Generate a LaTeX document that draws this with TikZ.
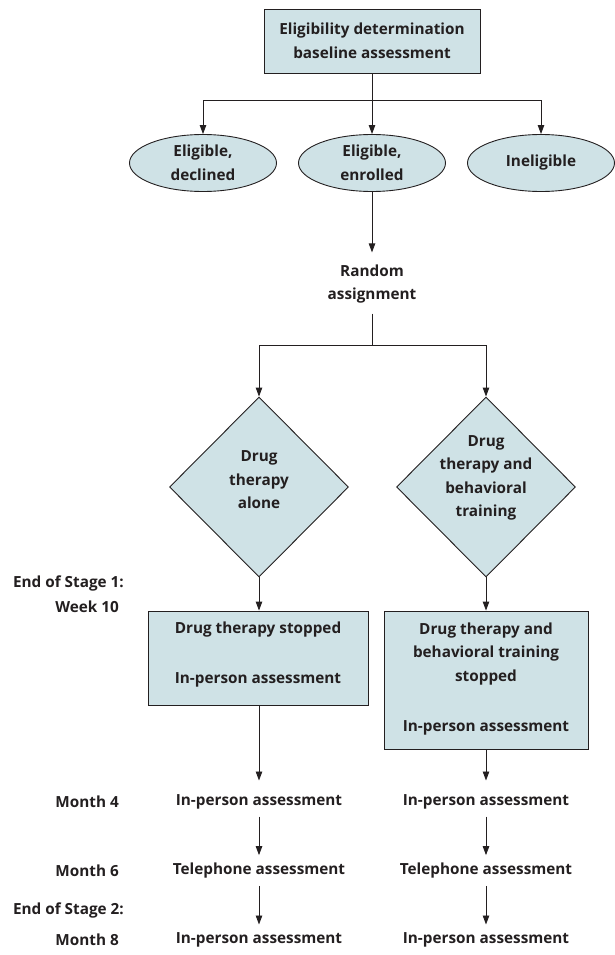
\documentclass[tikz,border=0pt]{standalone}
\usepackage{fontspec}
\setmainfont{Open Sans}
\usetikzlibrary{arrows.meta,shapes.geometric}
\definecolor{boxfill}{RGB}{207,226,230}
\definecolor{ink}{RGB}{35,31,32}
\begin{document}
\begin{tikzpicture}[x=1pt,y=-1pt,
  every node/.style={font=\bfseries\fontsize{15.3}{23.5}\selectfont, text=ink, align=center, inner sep=0pt},
  boxnode/.style={draw=ink, fill=boxfill, line width=0.9pt},
  ellnode/.style={draw=ink, fill=boxfill, ellipse, line width=0.9pt, minimum width=147pt, minimum height=57pt},
  diamnode/.style={draw=ink, fill=boxfill, diamond, line width=0.9pt, minimum width=179pt, minimum height=180pt},
  arr/.style={draw=ink, line width=0.9pt, -{Triangle[length=9pt,width=6.5pt]}},
  ln/.style={draw=ink, line width=0.9pt},
  lbl/.style={anchor=east, align=right}]
\useasboundingbox (0,0) rectangle (615,955);

% top box
\node[boxnode, minimum width=216pt, minimum height=64pt] (top) at (372,41) {Eligibility determination\\baseline assessment};
\node[ellnode] (e1) at (203,163) {Eligible,\\declined};
\node[ellnode] (e2) at (372,163) {Eligible,\\enrolled};
\node[ellnode] (e3) at (541,163) {Ineligible};
\coordinate (split1) at (372,100);
\draw[ln] (top.south) -- (split1);
\draw[arr] (split1) -| (e1.north);
\draw[arr] (split1) -- (e2.north);
\draw[arr] (split1) -| (e3.north);

\node (rand) at (372,284) {Random\\assignment};
\draw[arr, shorten >=12pt] (e2.south) -- (rand.north);
\coordinate (split2) at (372,345);
\draw[ln, shorten <=10pt] (rand.south) -- (split2);

\node[diamnode] (d1) at (259,487) {};
\node at (259,480) {Drug\\therapy\\alone};
\node[diamnode] (d2) at (486,487) {};
\node at (486,478) {Drug\\therapy and\\behavioral\\training};
\draw[arr] (split2) -| (d1.north);
\draw[arr] (split2) -| (d2.north);

% Stage 1 boxes
\node[boxnode, minimum width=220pt, minimum height=94pt] (b1) at (258,658) {};
\node at (258,630) {Drug therapy stopped};
\node at (258,680) {In-person assessment};
\node[boxnode, minimum width=204pt, minimum height=138pt] (b2) at (486,680) {};
\node at (486,654) {Drug therapy and\\behavioral training\\stopped};
\node at (486,728) {In-person assessment};
\draw[arr] (d1.south) -- (b1.north -| d1.south);
\draw[arr] (d2.south) -- (b2.north -| d2.south);

% left labels
\node[lbl] (s1) at (124,583) {End of Stage 1:};
\node[lbl] (w10) at (119,607) {Week 10};
\node[lbl] (m4) at (119,802) {Month 4};
\node[lbl] (m6) at (119,871) {Month 6};
\node[lbl] (s2) at (124,910) {End of Stage 2:};
\node[lbl] (m8) at (119,940) {Month 8};

% follow-up rows
\node (l4) at (259,802) {In-person assessment};
\node (r4) at (486,802) {In-person assessment};
\node (l6) at (259,871) {Telephone assessment};
\node (r6) at (486,871) {Telephone assessment};
\node (l8) at (259,940) {In-person assessment};
\node (r8) at (486,940) {In-person assessment};

\draw[arr, shorten >=14pt] (b1.south -| d1.south) -- (l4.north);
\draw[arr, shorten >=14pt] (b2.south -| d2.south) -- (r4.north);
\draw[arr, shorten <=7pt, shorten >=8pt] (l4.south) -- (l6.north);
\draw[arr, shorten <=7pt, shorten >=8pt] (r4.south) -- (r6.north);
\draw[arr, shorten <=7pt, shorten >=8pt] (l6.south) -- (l8.north);
\draw[arr, shorten <=7pt, shorten >=8pt] (r6.south) -- (r8.north);
\end{tikzpicture}
\end{document}
